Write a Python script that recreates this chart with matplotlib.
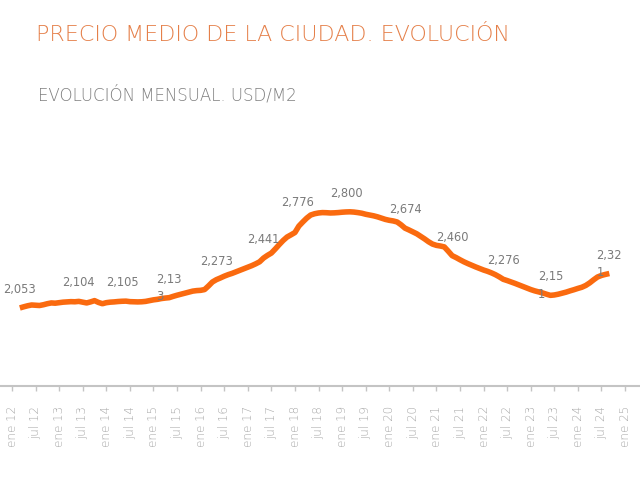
import numpy as np
import pandas as pd
import matplotlib
matplotlib.use("Agg")
import matplotlib.pyplot as plt

# Data: monthly average price, USD/m2 (mar 12 .. sep 24)
start_month = "2012-03-01"
prices = [
    2053, 2062, 2070, 2076, 2074, 2072, 2078, 2086, 2092, 2090,   # mar12-dic12
    2094, 2098, 2100, 2102, 2101, 2104, 2098, 2092, 2100, 2110, 2096, 2086,   # 2013
    2094, 2098, 2100, 2103, 2105, 2106, 2102, 2101, 2100, 2101, 2104, 2110,   # 2014
    2116, 2120, 2126, 2130, 2133, 2143, 2152, 2160, 2168, 2176, 2184, 2188,   # 2015
    2190, 2196, 2224, 2255, 2273, 2286, 2300, 2312, 2322, 2334, 2346, 2358,   # 2016
    2370, 2382, 2396, 2412, 2441, 2462, 2480, 2512, 2546, 2578, 2605, 2622,   # 2017
    2640, 2690, 2722, 2752, 2776, 2786, 2792, 2795, 2794, 2792, 2793, 2795,   # 2018
    2798, 2800, 2801, 2799, 2795, 2790, 2782, 2776, 2770, 2762, 2752, 2742,   # 2019
    2735, 2730, 2722, 2700, 2674, 2660, 2645, 2630, 2610, 2590, 2568, 2550,   # 2020
    2540, 2535, 2528, 2495, 2460, 2445, 2428, 2412, 2398, 2385, 2372, 2360,   # 2021
    2348, 2338, 2326, 2312, 2295, 2276, 2266, 2255, 2244, 2232, 2220, 2208,   # 2022
    2196, 2186, 2178, 2170, 2160, 2151, 2154, 2160, 2168, 2176, 2186, 2195,   # 2023
    2205, 2214, 2228, 2248, 2272, 2294, 2306, 2314, 2321,                     # 2024
]
label_dates = ["2012-03", "2013-06", "2014-05", "2015-05", "2016-05", "2017-05",
               "2018-05", "2019-02", "2020-05", "2021-05", "2022-06", "2023-06",
               "2024-09"]
label_texts = ["2,053", "2,104", "2,105", "2,13\n3", "2,273", "2,441", "2,776",
               "2,800", "2,674", "2,460", "2,276", "2,15\n1", "2,32\n1"]
tick_labels = []
for yy in range(12, 26):
    tick_labels.append(f"ene {yy}")
    if yy < 25:
        tick_labels.append(f"jul {yy}")

dates = pd.date_range(start_month, periods=len(prices), freq="MS")
months = (dates.year - 2012) * 12 + dates.month - 1
price_s = pd.Series(prices, index=months)

ORANGE = "#FA6A0F"
fig = plt.figure(figsize=(6.4, 4.8), dpi=100)
ax = fig.add_axes([0, 1 - 385.7 / 480, 1, (385.7 - 150) / 480])
ax.plot(months, prices, color=ORANGE, lw=4, solid_capstyle="butt")

px = 72 / 100  # one pixel in points
nudges = {"2,776": (-13, -6)}
for d, txt in zip(label_dates, label_texts):
    p = pd.Period(d, freq="M")
    m = (p.year - 2012) * 12 + p.month - 1
    dx, dy = nudges.get(txt, (0, 0))
    ax.annotate(txt, (m, price_s[m]), xytext=(dx * px, (25 + dy) * px),
                textcoords="offset points", ha="center", va="top",
                multialignment="left", linespacing=1.45, fontsize=9.2,
                color="#7a7a7a", family="DejaVu Sans", fontstretch="condensed")

ax.set_xlim(-3.05, 159.8)
ax.set_ylim(1448, 3282)
ax.set_xticks(np.arange(0, 157, 6))
ax.set_xticklabels(tick_labels, rotation=90, fontsize=8.6, color="#a8a8a8",
                   family="DejaVu Sans", fontweight=200)
ax.tick_params(axis="x", length=3.5, width=1, color="#c4c4c4", pad=11)
ax.set_yticks([])
for s in ["left", "right", "top"]:
    ax.spines[s].set_visible(False)
ax.spines["bottom"].set_color("#c4c4c4")
ax.spines["bottom"].set_linewidth(1.5)

fig.text(36 / 640, 1 - 35 / 480, "PRECIO MEDIO DE LA CIUDAD. EVOLUCIÓN",
         fontsize=15.9, color="#E5804A", family="DejaVu Sans", fontweight=200,
         va="center")
fig.text(38 / 640, 1 - 95 / 480, "EVOLUCIÓN MENSUAL. USD/M2",
         fontsize=12.0, color="#7e7e7e", family="DejaVu Sans", fontweight=200,
         va="center")

fig.savefig("out.png", dpi=100)
